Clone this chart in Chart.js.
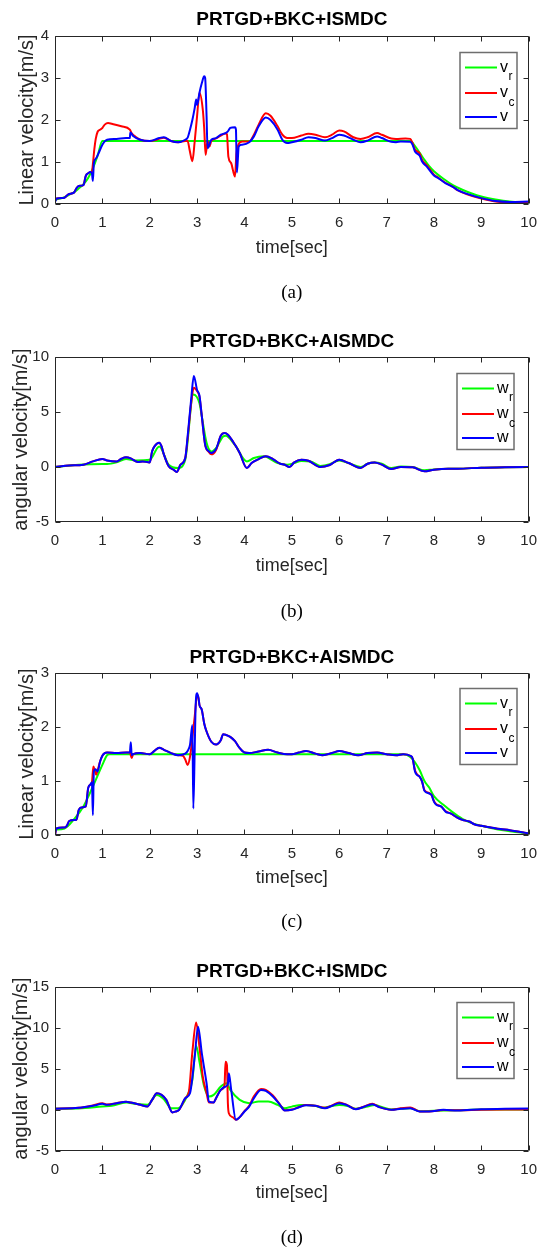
<!DOCTYPE html>
<html><head><meta charset="utf-8">
<script src="https://cdn.jsdelivr.net/npm/chart.js@4.4.1/dist/chart.umd.min.js"></script>
<style>
html,body{margin:0;padding:0;background:#fff;}
body{width:547px;height:1251px;position:relative;overflow:hidden;}
canvas{position:absolute;left:0;}
</style></head><body>
<canvas id="ca"></canvas><canvas id="cb"></canvas><canvas id="cc"></canvas><canvas id="cd"></canvas>
<script>
// ---------- tick labels ----------
const xTicks = [0,1,2,3,4,5,6,7,8,9,10];
const yTicksA = [0,1,2,3,4];
const yTicksB = [-5,0,5,10];
const yTicksC = [0,1,2,3];
const yTicksD = [-5,0,5,10,15];

// ---------- (a) PRTGD+BKC+ISMDC linear velocity ----------
const aVr = [[0,0.1],[0.1,0.13],[0.2,0.16],[0.3,0.22],[0.4,0.28],[0.5,0.37],[0.6,0.47],[0.7,0.62],[0.8,0.85],[0.9,1.15],[1.0,1.5],[7.5,1.5],[7.6,1.38],[7.7,1.22],[7.8,1.05],[7.9,0.9],[8.0,0.78],[8.2,0.6],[8.4,0.45],[8.6,0.34],[8.8,0.25],[9.0,0.18],[9.3,0.11],[9.6,0.06],[10,0.03]];
const aVc = [[0,0.08],[0.03,0.13],[0.2,0.15],[0.28,0.23],[0.4,0.27],[0.45,0.37],[0.5,0.43],[0.6,0.45],[0.65,0.67],[0.7,0.73],[0.75,0.76],[0.78,0.77],[0.8,0.95],[0.83,1.3],[0.86,1.55],[0.9,1.72],[0.95,1.77],[1.0,1.81],[1.05,1.89],[1.12,1.93],[1.2,1.91],[1.4,1.85],[1.58,1.77],[1.62,1.68],[1.7,1.6],[1.8,1.53],[2.0,1.5],[2.2,1.55],[2.3,1.58],[2.45,1.5],[2.6,1.47],[2.75,1.5],[2.8,1.5],[2.84,1.3],[2.9,1.02],[2.95,1.5],[3.0,2.1],[3.05,2.65],[3.12,2.25],[3.15,1.8],[3.18,1.17],[3.22,1.5],[3.26,1.37],[3.3,1.5],[3.4,1.56],[3.5,1.63],[3.6,1.68],[3.63,1.66],[3.66,1.13],[3.72,0.97],[3.8,0.65],[3.83,1.2],[3.87,1.41],[3.95,1.49],[4.1,1.49],[4.2,1.65],[4.3,1.89],[4.45,2.16],[4.55,2.1],[4.7,1.85],[4.8,1.65],[4.9,1.57],[5.0,1.57],[5.2,1.63],[5.35,1.67],[5.5,1.65],[5.7,1.59],[5.85,1.65],[6.0,1.75],[6.1,1.73],[6.3,1.59],[6.45,1.55],[6.6,1.59],[6.8,1.69],[6.9,1.65],[7.1,1.56],[7.2,1.55],[7.4,1.56],[7.5,1.55],[7.55,1.45],[7.6,1.3],[7.7,1.2],[7.75,1.05],[7.85,0.92],[8.0,0.7],[8.1,0.62],[8.25,0.5],[8.4,0.41],[8.5,0.33],[8.7,0.23],[9.0,0.13],[9.3,0.06],[9.6,0.04],[10,0.05]];
const aV = [[0,0.05],[0.04,0.13],[0.2,0.15],[0.28,0.23],[0.4,0.27],[0.45,0.37],[0.5,0.43],[0.6,0.45],[0.65,0.67],[0.7,0.73],[0.75,0.76],[0.78,0.72],[0.8,0.55],[0.82,0.97],[0.87,1.09],[0.92,1.21],[1.0,1.41],[1.05,1.49],[1.1,1.53],[1.3,1.55],[1.5,1.57],[1.58,1.57],[1.59,1.7],[1.65,1.62],[1.8,1.53],[2.0,1.5],[2.2,1.57],[2.3,1.59],[2.45,1.5],[2.6,1.47],[2.75,1.53],[2.8,1.58],[2.85,1.77],[2.9,2.0],[2.95,2.29],[2.98,2.49],[3.0,2.36],[3.05,2.65],[3.1,2.88],[3.15,3.04],[3.17,3.0],[3.2,2.09],[3.22,1.33],[3.3,1.53],[3.4,1.57],[3.5,1.65],[3.6,1.69],[3.65,1.73],[3.7,1.81],[3.8,1.83],[3.82,1.77],[3.84,0.75],[3.88,1.37],[3.95,1.41],[4.1,1.47],[4.2,1.61],[4.3,1.85],[4.45,2.06],[4.55,2.0],[4.7,1.77],[4.8,1.53],[4.9,1.45],[5.0,1.47],[5.2,1.53],[5.35,1.59],[5.5,1.57],[5.7,1.51],[5.85,1.57],[6.0,1.65],[6.1,1.63],[6.3,1.53],[6.45,1.47],[6.6,1.51],[6.8,1.61],[6.9,1.57],[7.1,1.48],[7.2,1.47],[7.3,1.49],[7.5,1.48],[7.55,1.41],[7.6,1.25],[7.7,1.15],[7.75,1.01],[7.85,0.89],[8.0,0.68],[8.1,0.61],[8.25,0.49],[8.4,0.41],[8.5,0.33],[8.7,0.24],[9.0,0.14],[9.3,0.07],[9.6,0.05],[10,0.06]];

// ---------- (b) PRTGD+BKC+AISMDC angular velocity ----------
const bWr = [[0,0],[0.5,0.2],[1.0,0.27],[1.1,0.27],[1.3,0.42],[1.5,0.72],[1.7,0.6],[2.0,0.66],[2.2,1.87],[2.4,0.21],[2.6,-0.09],[2.75,0.66],[2.92,6.6],[3.05,5.8],[3.1,4.6],[3.2,2.2],[3.3,1.42],[3.4,1.72],[3.55,2.78],[3.6,2.84],[3.8,2.0],[4.05,0.51],[4.2,0.82],[4.4,0.97],[4.7,0.36],[4.9,0.21],[5.05,0.35],[5.2,0.55],[5.4,0.5],[5.6,0.1],[5.8,0.25],[6.0,0.6],[6.2,0.35],[6.45,0.0],[6.6,0.3],[6.75,0.42],[6.9,0.3],[7.1,-0.1],[7.3,0.05],[7.55,0.0],[7.8,-0.3],[8.0,-0.22],[8.3,-0.15],[8.5,-0.15],[9.0,-0.06],[9.5,-0.03],[10,0]];
const bWc = [[0,0],[0.3,0.13],[0.6,0.21],[0.8,0.51],[1.0,0.72],[1.1,0.6],[1.3,0.51],[1.4,0.75],[1.5,0.88],[1.6,0.78],[1.75,0.45],[1.85,0.51],[2.0,0.42],[2.05,1.42],[2.1,1.87],[2.2,2.2],[2.25,1.87],[2.3,1.12],[2.4,0.06],[2.5,-0.24],[2.57,-0.45],[2.65,0.21],[2.75,0.82],[2.8,2.6],[2.88,6.0],[2.93,7.2],[3.0,6.9],[3.05,6.4],[3.1,4.6],[3.17,2.02],[3.25,1.35],[3.3,1.15],[3.4,1.55],[3.5,2.84],[3.58,3.08],[3.65,2.93],[3.8,2.02],[3.9,1.27],[4.05,-0.09],[4.15,0.36],[4.3,0.72],[4.45,0.97],[4.6,0.72],[4.75,0.3],[4.85,0.2],[4.95,0],[5.05,0.42],[5.2,0.66],[5.35,0.57],[5.6,0],[5.8,0.18],[6.0,0.66],[6.2,0.36],[6.45,-0.09],[6.6,0.3],[6.75,0.42],[6.9,0.21],[7.1,-0.18],[7.3,0],[7.55,-0.03],[7.8,-0.39],[8.0,-0.24],[8.3,-0.15],[8.5,-0.15],[9.0,-0.06],[9.5,-0.03],[10,0]];
const bW = [[0,0],[0.3,0.13],[0.6,0.21],[0.8,0.51],[1.0,0.72],[1.1,0.6],[1.3,0.51],[1.4,0.75],[1.5,0.88],[1.6,0.78],[1.75,0.45],[1.85,0.51],[2.0,0.42],[2.05,1.42],[2.1,1.87],[2.2,2.2],[2.25,1.87],[2.3,1.12],[2.4,0.06],[2.5,-0.24],[2.57,-0.45],[2.65,0.21],[2.75,0.82],[2.8,2.78],[2.88,6.4],[2.93,8.28],[3.0,7.0],[3.05,6.5],[3.1,4.6],[3.17,2.02],[3.25,1.42],[3.3,1.27],[3.4,1.63],[3.5,2.84],[3.58,3.08],[3.65,2.93],[3.8,2.02],[3.9,1.27],[4.05,-0.09],[4.15,0.36],[4.3,0.72],[4.45,0.97],[4.6,0.72],[4.75,0.3],[4.85,0.2],[4.95,0],[5.05,0.42],[5.2,0.66],[5.35,0.57],[5.6,0],[5.8,0.18],[6.0,0.66],[6.2,0.36],[6.45,-0.09],[6.6,0.3],[6.75,0.42],[6.9,0.21],[7.1,-0.18],[7.3,0],[7.55,-0.03],[7.8,-0.39],[8.0,-0.24],[8.3,-0.15],[8.5,-0.15],[9.0,-0.06],[9.5,-0.03],[10,0]];

// ---------- (c) PRTGD+BKC+AISMDC linear velocity ----------
const cVr = [[0,0.1],[0.2,0.12],[0.4,0.29],[0.6,0.53],[0.8,0.9],[1.0,1.3],[1.1,1.48],[1.15,1.5],[7.35,1.5],[7.5,1.45],[7.6,1.35],[7.7,1.2],[7.8,1.0],[7.9,0.88],[8.0,0.72],[8.2,0.56],[8.4,0.42],[8.6,0.3],[8.8,0.22],[9.0,0.17],[9.3,0.11],[9.6,0.07],[10,0.03]];
const cVc = [[0,0],[0.03,0.12],[0.2,0.14],[0.25,0.17],[0.3,0.26],[0.4,0.28],[0.45,0.28],[0.5,0.46],[0.55,0.51],[0.65,0.53],[0.7,0.87],[0.75,0.94],[0.78,0.98],[0.81,1.27],[0.84,1.2],[0.87,1.12],[0.9,1.2],[0.95,1.36],[1.0,1.47],[1.05,1.52],[1.1,1.53],[1.3,1.52],[1.5,1.53],[1.58,1.53],[1.62,1.43],[1.65,1.5],[1.8,1.52],[2.0,1.5],[2.1,1.56],[2.2,1.62],[2.3,1.58],[2.45,1.52],[2.6,1.48],[2.7,1.47],[2.75,1.4],[2.8,1.3],[2.85,1.45],[2.9,1.8],[2.95,2.2],[3.0,2.6],[3.03,2.54],[3.05,2.41],[3.1,2.32],[3.15,2.07],[3.2,1.92],[3.3,1.73],[3.4,1.68],[3.5,1.76],[3.55,1.87],[3.6,1.86],[3.7,1.82],[3.8,1.74],[3.9,1.61],[4.0,1.53],[4.1,1.52],[4.3,1.55],[4.5,1.58],[4.7,1.53],[4.9,1.5],[5.0,1.5],[5.15,1.53],[5.3,1.56],[5.5,1.51],[5.65,1.48],[5.85,1.52],[6.0,1.56],[6.2,1.52],[6.4,1.48],[6.6,1.52],[6.8,1.53],[7.0,1.5],[7.2,1.48],[7.35,1.5],[7.5,1.47],[7.55,1.42],[7.6,1.2],[7.65,1.12],[7.7,1.08],[7.75,0.99],[7.8,0.83],[7.9,0.78],[7.95,0.74],[8.0,0.63],[8.05,0.57],[8.15,0.53],[8.25,0.44],[8.35,0.4],[8.5,0.32],[8.6,0.28],[8.75,0.25],[8.85,0.2],[9.0,0.17],[9.2,0.14],[9.4,0.11],[9.6,0.09],[9.8,0.06],[10,0.03]];
const cV = [[0,0],[0.03,0.12],[0.2,0.14],[0.25,0.17],[0.3,0.26],[0.4,0.28],[0.45,0.28],[0.5,0.46],[0.55,0.51],[0.65,0.53],[0.7,0.87],[0.75,0.94],[0.78,0.98],[0.8,0.37],[0.82,1.18],[0.85,1.22],[0.9,1.18],[0.95,1.36],[1.0,1.47],[1.05,1.52],[1.1,1.53],[1.3,1.52],[1.5,1.53],[1.58,1.53],[1.6,1.72],[1.62,1.48],[1.65,1.5],[1.8,1.52],[2.0,1.5],[2.1,1.56],[2.2,1.62],[2.3,1.58],[2.45,1.52],[2.6,1.48],[2.75,1.51],[2.8,1.56],[2.85,1.67],[2.9,2.04],[2.92,0.49],[2.95,1.61],[2.97,2.41],[3.0,2.63],[3.03,2.54],[3.05,2.41],[3.1,2.32],[3.15,2.07],[3.2,1.92],[3.3,1.73],[3.4,1.68],[3.5,1.76],[3.55,1.87],[3.6,1.86],[3.7,1.82],[3.8,1.74],[3.9,1.61],[4.0,1.53],[4.1,1.52],[4.3,1.55],[4.5,1.58],[4.7,1.53],[4.9,1.5],[5.0,1.5],[5.15,1.53],[5.3,1.56],[5.5,1.51],[5.65,1.48],[5.85,1.52],[6.0,1.56],[6.2,1.52],[6.4,1.48],[6.6,1.52],[6.8,1.53],[7.0,1.5],[7.2,1.48],[7.35,1.5],[7.5,1.47],[7.55,1.42],[7.6,1.18],[7.65,1.11],[7.7,1.08],[7.75,0.99],[7.8,0.82],[7.9,0.77],[7.95,0.74],[8.0,0.62],[8.05,0.56],[8.15,0.53],[8.25,0.43],[8.35,0.4],[8.5,0.32],[8.6,0.28],[8.75,0.25],[8.85,0.2],[9.0,0.17],[9.2,0.14],[9.4,0.11],[9.6,0.09],[9.8,0.06],[10,0.03]];

// ---------- (d) PRTGD+BKC+ISMDC angular velocity ----------
const dWr = [[0,0.1],[0.5,0.12],[1.0,0.36],[1.2,0.45],[1.5,0.85],[1.7,0.69],[1.95,0.57],[2.15,1.78],[2.3,1.26],[2.45,0.16],[2.6,0.16],[2.8,1.78],[2.9,3.6],[2.98,7.77],[3.05,5.83],[3.15,2.8],[3.25,1.58],[3.35,1.78],[3.5,2.8],[3.62,3.2],[3.7,2.39],[3.9,1.17],[4.1,0.77],[4.3,0.97],[4.5,0.97],[4.7,0.57],[4.85,0.16],[5.0,0.35],[5.2,0.55],[5.45,0.5],[5.65,0.2],[5.9,0.5],[6.0,0.55],[6.2,0.4],[6.35,0.1],[6.6,0.35],[6.75,0.55],[6.9,0.3],[7.1,0],[7.3,0.1],[7.5,0.15],[7.7,-0.2],[8.0,-0.15],[8.5,-0.1],[9,0],[10,0]];
const dWc = [[0,0.1],[0.5,0.2],[0.8,0.5],[1.0,0.75],[1.1,0.6],[1.3,0.77],[1.5,0.95],[1.6,0.85],[1.8,0.57],[1.95,0.36],[2.05,1.17],[2.15,1.98],[2.25,1.78],[2.35,1.17],[2.48,-0.36],[2.55,-0.24],[2.62,-0.04],[2.75,1.38],[2.83,2.3],[2.9,7.0],[2.98,10.6],[3.05,7.6],[3.12,4.0],[3.2,2.0],[3.25,0.85],[3.35,0.85],[3.4,1.38],[3.5,2.39],[3.58,3.0],[3.6,5.83],[3.63,5.4],[3.65,0.77],[3.67,-0.45],[3.75,-0.93],[3.82,-1.26],[3.9,-0.93],[4.0,-0.2],[4.1,0.45],[4.2,1.6],[4.35,2.5],[4.45,2.4],[4.6,1.7],[4.75,0.6],[4.85,-0.1],[5.0,0.0],[5.15,0.3],[5.3,0.55],[5.5,0.45],[5.7,0.2],[5.85,0.5],[6.0,0.85],[6.15,0.6],[6.35,0.05],[6.5,0.3],[6.7,0.7],[6.85,0.3],[7.1,-0.04],[7.3,0.15],[7.5,0.25],[7.7,-0.24],[7.9,-0.24],[8.2,-0.06],[8.5,-0.1],[9.0,-0.02],[9.5,0.0],[10,0.0]];
const dW = [[0,0.1],[0.5,0.2],[0.8,0.45],[1.0,0.69],[1.1,0.57],[1.3,0.77],[1.5,0.93],[1.6,0.85],[1.8,0.57],[1.95,0.36],[2.05,1.17],[2.15,1.98],[2.25,1.78],[2.35,1.17],[2.48,-0.36],[2.55,-0.24],[2.62,-0.04],[2.75,1.38],[2.85,1.98],[2.95,6.44],[3.02,10.08],[3.1,6.84],[3.2,3.2],[3.25,0.97],[3.35,0.85],[3.4,1.38],[3.5,2.39],[3.6,2.8],[3.65,3.12],[3.67,4.41],[3.72,2.39],[3.82,-1.26],[3.9,-0.93],[4.0,-0.24],[4.1,0.36],[4.2,1.38],[4.35,2.39],[4.45,2.27],[4.6,1.58],[4.75,0.57],[4.85,-0.12],[5.0,-0.04],[5.15,0.28],[5.3,0.53],[5.5,0.45],[5.7,0.16],[5.85,0.45],[6.0,0.77],[6.15,0.57],[6.35,0.04],[6.5,0.28],[6.7,0.65],[6.85,0.28],[7.1,-0.04],[7.3,0.08],[7.5,0.16],[7.7,-0.24],[7.9,-0.24],[8.2,-0.04],[8.5,-0.12],[9.0,0.04],[9.5,0.08],[10,0.12]];

// ---------- text ----------
const titles = ['PRTGD+BKC+ISMDC','PRTGD+BKC+AISMDC','PRTGD+BKC+AISMDC','PRTGD+BKC+ISMDC'];
const yLabels = ['Linear velocity[m/s]','angular velocity[m/s]','Linear velocity[m/s]','angular velocity[m/s]'];
const xLabel = 'time[sec]';
const subLabels = ['(a)','(b)','(c)','(d)'];
const legV = [['v','r'],['v','c'],['v','']];
const legW = [['w','r'],['w','c'],['w','']];

// ---------- styles / layout ----------
const FONT = '"Liberation Sans", Arial, Helvetica, sans-serif';
const SERIF = '"Liberation Serif", "Times New Roman", serif';
const COLORS = ['#00ff00','#ff0000','#0000ff'];
const AX = '#262626';

const frame = {
  id: 'frame',
  afterDraw(chart, args, opts) {
    const {ctx, chartArea: a} = chart;
    const xs = chart.scales.x, ys = chart.scales.y;
    ctx.save();
    const L = Math.round(a.left) + 0.5, R = Math.round(a.right) - 0.5;
    const T = Math.round(a.top) + 0.5, B = Math.round(a.bottom) - 0.5;
    ctx.strokeStyle = AX; ctx.lineWidth = 1;
    ctx.beginPath();
    ctx.rect(L, T, R - L, B - T);
    const tl = 5;
    xs.ticks.forEach(t => {
      const p = Math.round(xs.getPixelForValue(t.value)) + 0.5;
      ctx.moveTo(p, B); ctx.lineTo(p, B - tl);
      ctx.moveTo(p, T); ctx.lineTo(p, T + tl);
    });
    ys.ticks.forEach(t => {
      const p = Math.round(ys.getPixelForValue(t.value)) + 0.5;
      ctx.moveTo(L, p); ctx.lineTo(L + tl, p);
      ctx.moveTo(R, p); ctx.lineTo(R - tl, p);
    });
    ctx.stroke();
    // legend
    const lg = opts.legend;
    const bx = lg.left, by = Math.round(a.top + lg.top) + 0.5, bw = lg.width, bh = lg.height;
    ctx.fillStyle = '#fff'; ctx.fillRect(bx, by, bw, bh);
    ctx.strokeStyle = '#6e6e6e'; ctx.lineWidth = 1.5; ctx.strokeRect(bx, by, bw, bh);
    const rows = [15, 40.5, 64.5];
    chart.data.datasets.forEach((ds, i) => {
      const yy = by + rows[i];
      ctx.strokeStyle = ds.borderColor; ctx.lineWidth = 2;
      ctx.beginPath(); ctx.moveTo(bx + 5, yy); ctx.lineTo(bx + 37, yy); ctx.stroke();
      ctx.fillStyle = '#000'; ctx.textAlign = 'left'; ctx.textBaseline = 'alphabetic';
      ctx.font = '16px ' + FONT;
      ctx.fillText(ds.sym, bx + 40, yy + 4.4);
      const w = ctx.measureText(ds.sym).width;
      if (ds.sub) { ctx.font = '12px ' + FONT; ctx.fillText(ds.sub, bx + 40 + w + 0.5, yy + 12.5); }
    });
    ctx.restore();
  }
};

const specs = [
  {id:'ca', band:[0,310],    titleC:20,    top:36,    bottom:204,    xlabC:248,    subC:293,    ylabC:27,   legLeft:460, legTop:15.7, series:[aVr,aVc,aV], leg:legV, yt:yTicksA},
  {id:'cb', band:[310,622],  titleC:342,   top:357,   bottom:522,    xlabC:566,    subC:611.7,  ylabC:21.5, legLeft:457, legTop:15.7, series:[bWr,bWc,bW], leg:legW, yt:yTicksB},
  {id:'cc', band:[622,935],  titleC:657.7, top:673.3, bottom:835,    xlabC:878.3,  subC:921.7,  ylabC:27,   legLeft:460, legTop:15,   series:[cVr,cVc,cV], leg:legV, yt:yTicksC},
  {id:'cd', band:[935,1251], titleC:971.7, top:986.5, bottom:1150.5, xlabC:1193.3, subC:1238.3, ylabC:21.5, legLeft:457, legTop:15.2, series:[dWr,dWc,dW], leg:legW, yt:yTicksD}
];

specs.forEach((s, k) => {
  const b0 = s.band[0], H = s.band[1] - s.band[0];
  const cv = document.getElementById(s.id);
  cv.width = 547; cv.height = H;
  cv.style.width = '547px'; cv.style.height = H + 'px'; cv.style.top = b0 + 'px';
  const tLH = 19 * 1.2;
  const titleC = s.titleC - b0, top = s.top - b0, bottom = s.bottom - b0;
  const xlabC = s.xlabC - b0, subC = s.subC - b0;
  const subTop = subC - 9.5;
  const subPadB = Math.max(0, H - subTop - 19);
  const xH = subTop - bottom;
  const xTitlePadB = subTop - 10.8 - xlabC;
  new Chart(cv, {
    type: 'line',
    data: {
      datasets: s.series.map((arr, i) => ({
        data: arr.map(p => ({x: p[0], y: p[1]})),
        borderColor: COLORS[i], borderWidth: 2, pointRadius: 0, fill: false,
        cubicInterpolationMode: 'monotone', order: 2 - i,
        sym: s.leg[i][0], sub: s.leg[i][1]
      }))
    },
    options: {
      responsive: false, animation: false, events: [],
      layout: {padding: {left: 0, right: 16, top: 0, bottom: 0}},
      plugins: {
        legend: {display: false}, tooltip: {enabled: false},
        title: {display: true, text: titles[k], fullSize: false, color: '#000',
          font: {family: FONT, size: 19, weight: 'bold', lineHeight: 1.2},
          padding: {top: titleC - tLH / 2, bottom: top - titleC - tLH / 2}},
        subtitle: {display: true, position: 'bottom', text: subLabels[k], fullSize: false, color: '#000',
          font: {family: SERIF, size: 19, lineHeight: 1},
          padding: {top: 0, bottom: subPadB}},
        frame: {legend: {left: s.legLeft, top: s.legTop, width: 57, height: 76}}
      },
      scales: {
        x: {
          type: 'linear', min: 0, max: 10,
          afterBuildTicks: sc => { sc.ticks = xTicks.map(v => ({value: v})); },
          afterFit: sc => { sc.height = xH; },
          ticks: {font: {family: FONT, size: 15}, color: AX, padding: 10, maxRotation: 0, autoSkip: false, callback: v => String(v)},
          grid: {display: false, drawTicks: false}, border: {display: false},
          title: {display: true, text: xLabel, color: AX, font: {family: FONT, size: 18, lineHeight: 1.2}, padding: {top: 0, bottom: xTitlePadB}}
        },
        y: {
          type: 'linear', min: s.yt[0], max: s.yt[s.yt.length - 1],
          afterBuildTicks: sc => { sc.ticks = s.yt.map(v => ({value: v})); },
          afterFit: sc => { sc.width = 55; },
          ticks: {font: {family: FONT, size: 15}, color: AX, padding: 6, autoSkip: false, callback: v => String(v)},
          grid: {display: false, drawTicks: false}, border: {display: false},
          title: {display: true, text: yLabels[k], color: AX, font: {family: FONT, size: 20, lineHeight: 1.2}, padding: {top: s.ylabC - 12, bottom: 0}}
        }
      }
    },
    plugins: [frame]
  });
});
</script>
</body></html>
